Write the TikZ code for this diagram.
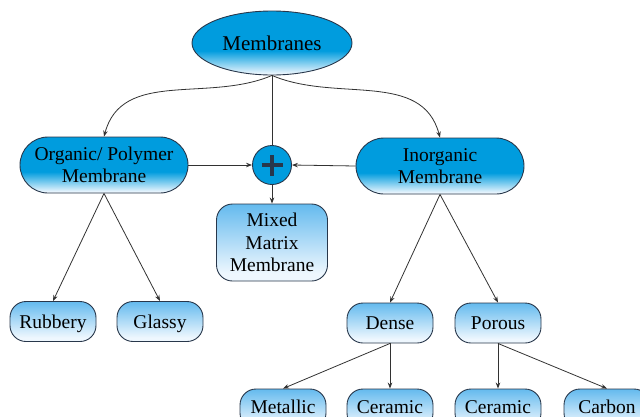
\documentclass[tikz,border=0pt]{standalone}
\usepackage{fontspec}
\setmainfont{Liberation Serif}
\newfontfamily\labelfont{Liberation Serif}
\usetikzlibrary{arrows.meta,shapes.geometric}

\definecolor{mainblue}{RGB}{0,156,222}
\definecolor{lightblue}{RGB}{100,186,238}
\definecolor{shadelow}{RGB}{238,247,254}
\definecolor{edgegray}{RGB}{50,50,50}
\definecolor{rimcol}{RGB}{40,55,75}

% strong blue, fading to white near the bottom
\pgfdeclareverticalshading{mainshade}{100bp}{color(0bp)=(shadelow); color(26bp)=(shadelow); color(44bp)=(mainblue); color(100bp)=(mainblue)}
% pale blue on top, fading gradually to white
\pgfdeclareverticalshading{lightshade}{100bp}{color(0bp)=(shadelow); color(30bp)=(shadelow); color(75bp)=(lightblue); color(100bp)=(lightblue)}

\begin{document}
\begin{tikzpicture}[x=1pt,y=-1pt,
  box/.style={draw=rimcol, line width=0.9pt, align=center, inner sep=0pt,
    font=\labelfont\fontsize{19.5}{22.5}\selectfont},
  mainbox/.style={box, shading=mainshade, rounded corners=28pt,
    minimum width=168pt, minimum height=56pt},
  leafbox/.style={box, shading=lightshade, rounded corners=16pt,
    minimum width=86pt, minimum height=40pt, text height=13pt, text depth=0pt},
  lowbox/.style={leafbox, text depth=4pt},
  link/.style={draw=edgegray, line width=0.8pt, -{Stealth[length=6pt,width=4.5pt]}},
  plain/.style={draw=edgegray, line width=0.8pt}]
\useasboundingbox (0,0) rectangle (640,416);

% top level
\node[ellipse, box, shading=mainshade, minimum width=160pt, minimum height=64pt,
  font=\labelfont\fontsize{21}{24}\selectfont] (mem) at (272,43) {Membranes};

% second level
\node[mainbox] (org) at (104,165) {Organic/ Polymer\\Membrane};
\node[mainbox] (inorg) at (440,166) {Inorganic\\Membrane};
\node[circle, draw=rimcol, fill=mainblue, minimum size=39pt, inner sep=0pt,
  line width=0.9pt,
  path picture={
    \draw[line width=3.6pt] ([xshift=-10.5pt]path picture bounding box.center)
      -- ([xshift=10.5pt]path picture bounding box.center);
    \draw[line width=3.6pt] ([yshift=-10.5pt]path picture bounding box.center)
      -- ([yshift=10.5pt]path picture bounding box.center);
  }] (plus) at (272,165) {};
\node[box, shading=lightshade, rounded corners=16pt, minimum width=111pt,
  minimum height=77pt] (mix) at (272,242.5) {Mixed\\Matrix\\Membrane};

% third level
\node[leafbox] (rub) at (53,321.5) {Rubbery};
\node[leafbox] (gla) at (160,321.5) {Glassy};
\node[leafbox] (den) at (390,323) {Dense};
\node[leafbox] (por) at (498,323) {Porous};

% fourth level
\node[lowbox] (met) at (283,409) {Metallic};
\node[lowbox] (cer1) at (390,409) {Ceramic};
\node[lowbox] (cer2) at (498,409) {Ceramic};
\node[lowbox] (car) at (607,409) {Carbon};

% connectors
\draw[link] (mem.south) to[out=203,in=75] (org.north);
\draw[link] (mem.south) to[out=-23,in=105] (inorg.north);
\draw[plain] (mem.south) -- (plus.north);
\draw[link] (org.east) -- (plus.west);
\draw[link] (inorg.west) -- (plus.east);
\draw[link] (plus.south) -- (mix.north);

\draw[link] (org.south) -- (rub.north);
\draw[link] (org.south) -- (gla.north);
\draw[link] (inorg.south) -- (den.north);
\draw[link] (inorg.south) -- (por.north);

\draw[link] (den.south) -- (met.north);
\draw[link] (den.south) -- (cer1.north);
\draw[link] (por.south) -- (cer2.north);
\draw[link] (por.south) -- (car.north);
\end{tikzpicture}
\end{document}
